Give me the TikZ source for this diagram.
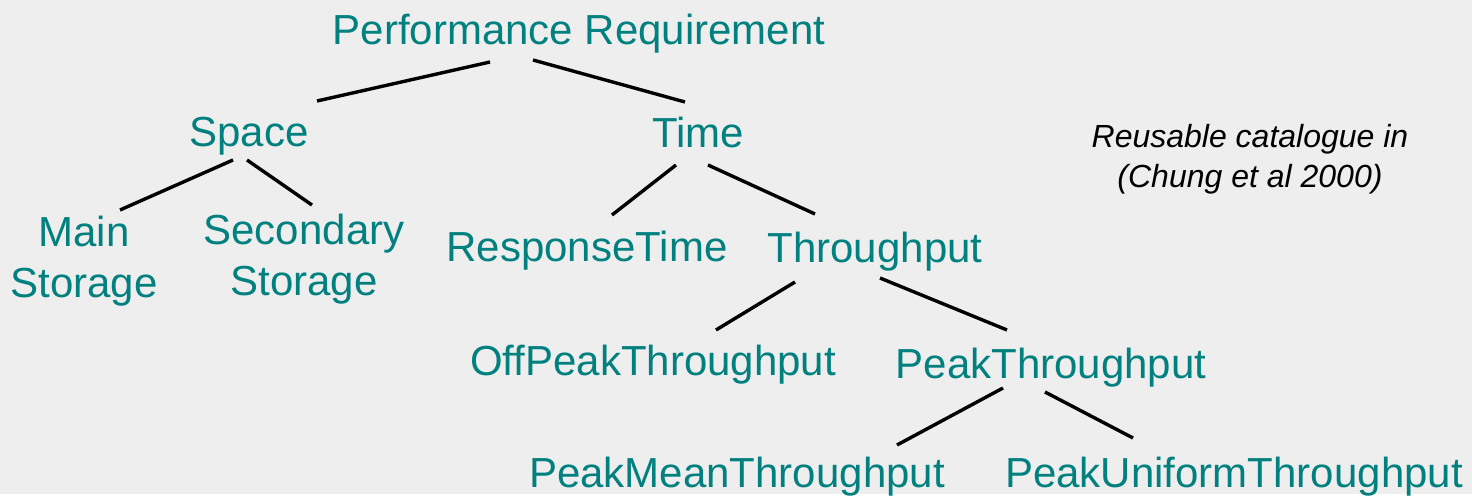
\documentclass[tikz,border=0pt]{standalone}
\usepackage{fontspec}
\setmainfont{Liberation Sans}
\usetikzlibrary{calc}
\definecolor{reqteal}{RGB}{0,128,126}
\definecolor{slidegray}{RGB}{238,238,238}
\begin{document}
\begin{tikzpicture}[x=1pt, y=-1pt,
		req/.style={text=reqteal, inner sep=0pt, anchor=base, font=\fontsize{42}{51}\selectfont},
		reqtwo/.style={req, anchor=north, align=center},
		note/.style={inner sep=0pt, anchor=north, align=center, font=\fontsize{32}{40}\selectfont\itshape},
		link/.style={line width=3.4pt}]
		\fill [slidegray] (0,0) rectangle (1472,494);
		% tree nodes
		\node [req] (perf) at (579,45) {Performance Requirement};
		\node [req] (space) at (249,147) {Space};
		\node [req] (time) at (698,148) {Time};
		\node [reqtwo] (mainst) at (84,216) {Main\\Storage};
		\node [reqtwo] (secst) at (304,214) {Secondary\\Storage};
		\node [req] (resp) at (587,262) {ResponseTime};
		\node [req] (thru) at (875,263) {Throughput};
		\node [req] (offpeak) at (653,375) {OffPeakThroughput};
		\node [req] (peak) at (1051,378) {PeakThroughput};
		\node [req] (mean) at (737,487) {PeakMeanThroughput};
		\node [req] (uniform) at (1234,487) {PeakUniformThroughput};
		\node [note] (cat) at (1250,124) {Reusable catalogue in\\(Chung et al 2000)};
		% links
		\draw [link] ($(perf.base)+(-89,17)$) -- ($(space.base)+(68,-46)$);
		\draw [link] ($(perf.base)+(-46,15)$) -- ($(time.base)+(-13,-46)$);
		\draw [link] ($(space.base)+(-16,13)$) -- ($(mainst.north)+(36,-6)$);
		\draw [link] ($(space.base)+(-2,13)$) -- ($(secst.north)+(8,-9)$);
		\draw [link] ($(time.base)+(-22,17)$) -- ($(resp.base)+(25,-47)$);
		\draw [link] ($(time.base)+(10,17)$) -- ($(thru.base)+(-60,-49)$);
		\draw [link] ($(thru.base)+(-80,19)$) -- ($(offpeak.base)+(63,-45)$);
		\draw [link] ($(thru.base)+(5,15)$) -- ($(peak.base)+(-44,-48)$);
		\draw [link] ($(peak.base)+(-48,10)$) -- ($(mean.base)+(160,-42)$);
		\draw [link] ($(peak.base)+(-6,14)$) -- ($(uniform.base)+(-101,-49)$);
		%\draw [link] (perf) -- (time);
	\end{tikzpicture}
\end{document}
